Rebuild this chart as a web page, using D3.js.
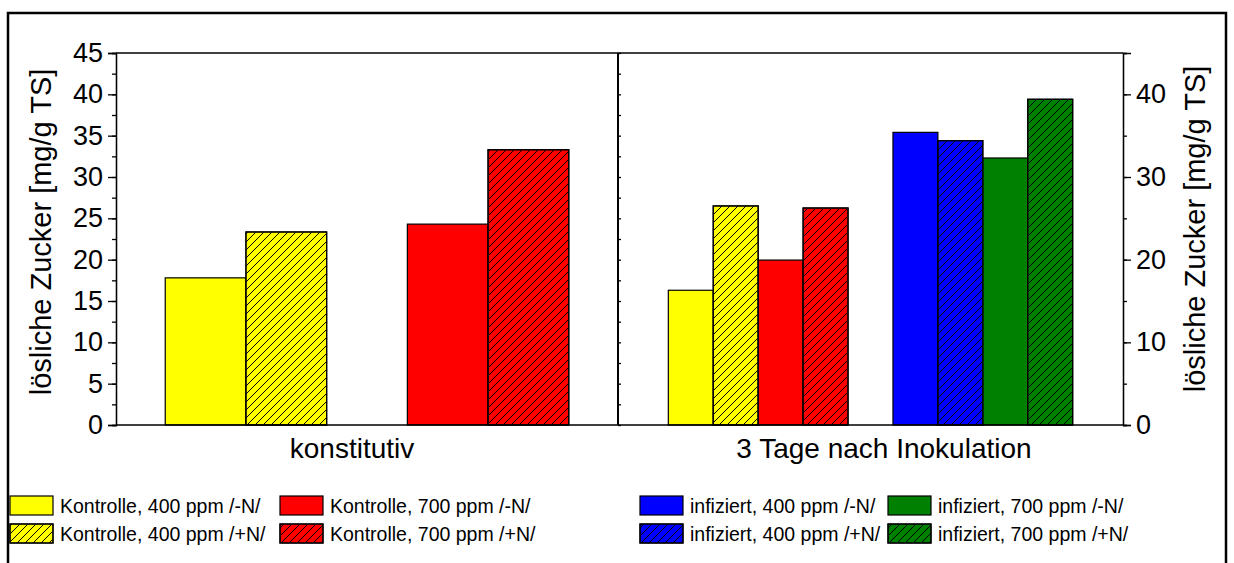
<!DOCTYPE html>
<html>
<head>
<meta charset="utf-8">
<script src="https://cdn.jsdelivr.net/npm/d3@7"></script>
<style>
  body { margin: 0; background: #fff; }
  svg text { font-family: "Liberation Sans", Arial, sans-serif; fill: #000; }
  .axis path, .axis line { stroke: #000; stroke-width: 1.3; }
  .bars rect { stroke: #000; stroke-width: 1.2; }
</style>
</head>
<body>
<svg width="1234" height="563" id="chart"></svg>
<script>
// data
var categories = ["konstitutiv", "3 Tage nach Inokulation"];
var seriesNames = [
  "Kontrolle, 400 ppm /-N/", "Kontrolle, 400 ppm /+N/",
  "Kontrolle, 700 ppm /-N/", "Kontrolle, 700 ppm /+N/",
  "infiziert, 400 ppm /-N/", "infiziert, 400 ppm /+N/",
  "infiziert, 700 ppm /-N/", "infiziert, 700 ppm /+N/"
];
var seriesColors = ["#ffff00", "#ffff00", "#ff0000", "#ff0000", "#0000ff", "#0000ff", "#008000", "#008000"];
var seriesHatched = [false, true, false, true, false, true, false, true];
var konstitutivValues = [17.8, 23.35, 24.3, 33.3, null, null, null, null];
var inokulationValues = [16.3, 26.5, 19.95, 26.25, 35.4, 34.4, 32.3, 39.4];
var leftTicks = [0, 5, 10, 15, 20, 25, 30, 35, 40, 45];
var rightTicks = [0, 10, 20, 30, 40];

var svg = d3.select("#chart");

var plotTop = 53, plotBottom = 425, plotLeft = 116, plotMid = 618, plotRight = 1123;

var y = d3.scaleLinear().domain([0, 45]).range([plotBottom, plotTop]);

// hatch pattern
var defs = svg.append("defs");
defs.append("pattern")
  .attr("id", "hatch")
  .attr("patternUnits", "userSpaceOnUse")
  .attr("width", 8).attr("height", 8)
  .append("path")
  .attr("d", "M0,8 L8,0 M-2,2 L2,-2 M6,10 L10,6")
  .attr("stroke", "#000").attr("stroke-width", 1);

// outer frame
svg.append("rect")
  .attr("x", 8).attr("y", 13).attr("width", 1218).attr("height", 620)
  .attr("fill", "none").attr("stroke", "#000").attr("stroke-width", 2.5);

// slots per panel
var leftSlots = ["0", "1", "gap", "2", "3"];
var rightSlots = ["0", "1", "2", "3", "gap", "4", "5", "6", "7"];
var xL = d3.scaleBand().domain(leftSlots).range([plotLeft, plotMid]).paddingOuter(0.61);
var xR = d3.scaleBand().domain(rightSlots).range([plotMid, plotRight]).paddingOuter(1.12);

function drawBars(values, xs) {
  var data = [];
  values.forEach(function(v, i) {
    if (v != null) data.push({ i: i, v: v });
  });
  var g = svg.append("g").attr("class", "bars");
  g.selectAll("rect.fill").data(data).enter().append("rect")
    .attr("x", function(d) { return xs(String(d.i)); })
    .attr("y", function(d) { return y(d.v); })
    .attr("width", xs.bandwidth())
    .attr("height", function(d) { return y(0) - y(d.v); })
    .attr("fill", function(d) { return seriesColors[d.i]; });
  g.selectAll("rect.hatch").data(data.filter(function(d) { return seriesHatched[d.i]; }))
    .enter().append("rect")
    .attr("x", function(d) { return xs(String(d.i)); })
    .attr("y", function(d) { return y(d.v); })
    .attr("width", xs.bandwidth())
    .attr("height", function(d) { return y(0) - y(d.v); })
    .attr("fill", "url(#hatch)");
}
drawBars(konstitutivValues, xL);
drawBars(inokulationValues, xR);

// frame lines
svg.append("line").attr("x1", plotLeft).attr("x2", plotRight).attr("y1", plotTop).attr("y2", plotTop)
  .attr("stroke", "#000").attr("stroke-width", 1.3);
svg.append("line").attr("x1", plotLeft).attr("x2", plotRight).attr("y1", plotBottom).attr("y2", plotBottom)
  .attr("stroke", "#000").attr("stroke-width", 1.5);
svg.append("line").attr("x1", plotMid).attr("x2", plotMid).attr("y1", plotTop).attr("y2", plotBottom)
  .attr("stroke", "#000").attr("stroke-width", 2);

// left axis
var minorL = d3.range(0, 45.1, 2.5);
svg.append("g").attr("class", "axis").attr("transform", "translate(" + plotLeft + ",0)")
  .call(d3.axisLeft(y).tickValues(minorL).tickSize(4).tickFormat(""));
var axL = svg.append("g").attr("class", "axis").attr("transform", "translate(" + plotLeft + ",0)")
  .call(d3.axisLeft(y).tickValues(leftTicks).tickSize(8).tickPadding(5));
axL.selectAll("text").style("font-size", "27px").style("font-family", "Liberation Sans, Arial, sans-serif");

// middle ticks (inward)
var axM = svg.append("g").attr("class", "axis").attr("transform", "translate(" + plotMid + ",0)")
  .call(d3.axisRight(y).tickValues(minorL).tickSize(3).tickFormat(""));
axM.select(".domain").remove();

// right axis
svg.append("g").attr("class", "axis").attr("transform", "translate(" + plotRight + ",0)")
  .call(d3.axisRight(y).tickValues(d3.range(0, 45.1, 5)).tickSize(4).tickFormat(""));
var axR = svg.append("g").attr("class", "axis").attr("transform", "translate(" + plotRight + ",0)")
  .call(d3.axisRight(y).tickValues(rightTicks).tickSize(8).tickPadding(5));
axR.selectAll("text").style("font-size", "27px").style("font-family", "Liberation Sans, Arial, sans-serif");

// axis titles
svg.append("text")
  .attr("transform", "translate(51,232) rotate(-90)")
  .attr("text-anchor", "middle").style("font-size", "29px")
  .text("lösliche Zucker [mg/g TS]");
svg.append("text")
  .attr("transform", "translate(1205,229) rotate(-90)")
  .attr("text-anchor", "middle").style("font-size", "29px")
  .text("lösliche Zucker [mg/g TS]");

// category labels
svg.append("text").attr("x", 352).attr("y", 458)
  .attr("text-anchor", "middle").style("font-size", "28px").text(categories[0]);
svg.append("text").attr("x", 884).attr("y", 458)
  .attr("text-anchor", "middle").style("font-size", "28px").text(categories[1]);

// legend
var legendCols = [10, 280, 640, 888];
var legendRows = [496, 524];
var legend = svg.append("g").attr("class", "bars");
seriesNames.forEach(function(name, i) {
  var lx = legendCols[Math.floor(i / 2)], ly = legendRows[i % 2];
  legend.append("rect").attr("x", lx).attr("y", ly).attr("width", 43).attr("height", 19)
    .attr("fill", seriesColors[i]);
  if (seriesHatched[i]) {
    legend.append("rect").attr("x", lx).attr("y", ly).attr("width", 43).attr("height", 19)
      .attr("fill", "url(#hatch)");
  }
  legend.append("text").attr("x", lx + 50).attr("y", ly + 17)
    .style("font-size", "19.5px").text(name);
});
</script>
</body>
</html>
